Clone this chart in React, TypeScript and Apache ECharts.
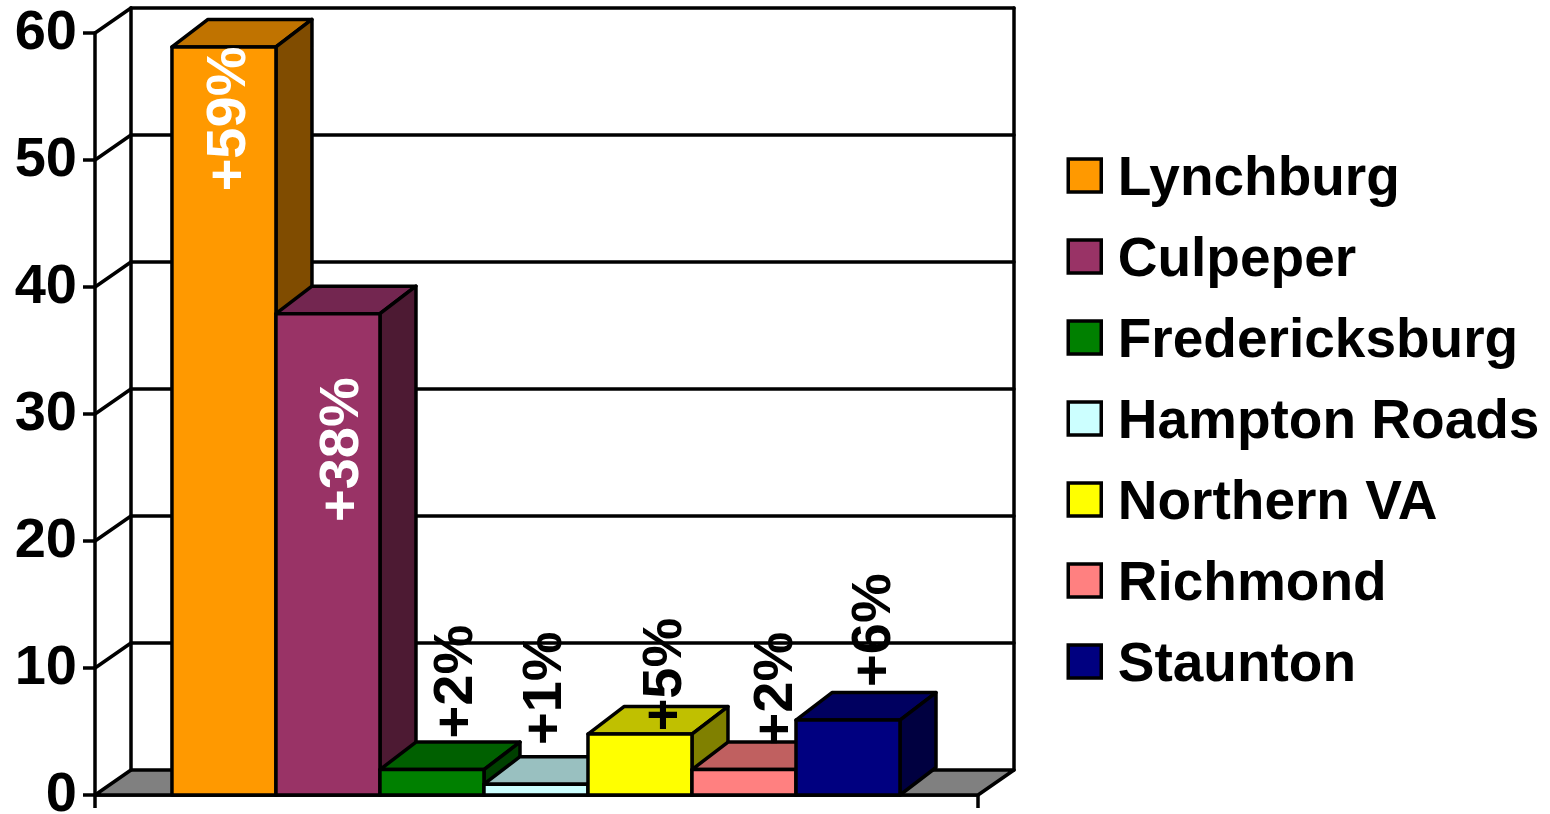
import React, { useEffect, useRef } from "react";
import * as echarts from "echarts";

const regions = ["Lynchburg", "Culpeper", "Fredericksburg", "Hampton Roads", "Northern VA", "Richmond", "Staunton"];
const values = [58.9, 37.9, 2, 0.85, 4.8, 2, 5.9];
const labels = ["+59%", "+38%", "+2%", "+1%", "+5%", "+2%", "+6%"];
const frontColors = ["#FF9900", "#993366", "#008000", "#CCFFFF", "#FFFF00", "#FF8080", "#000080"];
const topColors = ["#C07300", "#732650", "#006000", "#99C0C0", "#C0C000", "#C06060", "#000060"];
const sideColors = ["#804C00", "#4D1A33", "#004000", "#668080", "#808000", "#804040", "#000040"];
const axisTicks = [0, 10, 20, 30, 40, 50, 60];
const labelOffsets = [[2, 72], [11, 136], [21, -88], [6, -96], [22, -59.5], [29, -81], [23, -90]];

const FONT = '"Liberation Sans", Arial, sans-serif';
const WALL_DX = 36;
const WALL_DY = -25;
const BAR_DX = 36;
const BAR_DY = -27.5;
const X_MIN = -0.74;
const X_MAX = 7.75;
const LINE = 3.5;

const poly = (points: number[][], fill: string, lineWidth = LINE) => ({
  type: "polygon",
  shape: { points },
  style: { fill, stroke: "#000", lineWidth, lineJoin: "round" },
});
const seg = (a: number[], b: number[], lineWidth = LINE) => ({
  type: "line",
  shape: { x1: a[0], y1: a[1], x2: b[0], y2: b[1] },
  style: { stroke: "#000", lineWidth, lineCap: "round" },
});

function renderWall(_params: any, api: any) {
  const v = api.value(1);
  const fl = api.coord([X_MIN, v]);
  const fr = api.coord([X_MAX, v]);
  const bl = [fl[0] + WALL_DX, fl[1] + WALL_DY];
  const br = [fr[0] + WALL_DX, fr[1] + WALL_DY];
  const children: any[] = [];
  if (v === 0) {
    children.push(poly([fl, fr, br, bl], "#808080"));
    const tl = api.coord([X_MIN, axisTicks[axisTicks.length - 1]]);
    const tr = api.coord([X_MAX, axisTicks[axisTicks.length - 1]]);
    children.push(seg(bl, [tl[0] + WALL_DX, tl[1] + WALL_DY]));
    children.push(seg(br, [tr[0] + WALL_DX, tr[1] + WALL_DY]));
  } else {
    children.push(seg(fl, bl));
    children.push(seg(bl, br));
  }
  return { type: "group", children };
}

function makeBarRenderer(index: number) {
  return (_params: any, api: any) => {
    const i = api.value(0);
    const v = api.value(1);
    const a = api.coord([i, 0]);
    const b = api.coord([i + 1, v]);
    const [x0, y0] = a;
    const [x1, y1] = b;
    return {
      type: "group",
      children: [
        poly([[x0, y1], [x1, y1], [x1 + BAR_DX, y1 + BAR_DY], [x0 + BAR_DX, y1 + BAR_DY]], topColors[index]),
        poly([[x1, y0], [x1, y1], [x1 + BAR_DX, y1 + BAR_DY], [x1 + BAR_DX, y0 + BAR_DY]], sideColors[index]),
        poly([[x0, y0], [x1, y0], [x1, y1], [x0, y1]], frontColors[index]),
      ],
    };
  };
}

function renderLabel(params: any, api: any) {
  const i = api.value(0);
  const v = api.value(1);
  const c = api.coord([i + 0.5, v]);
  const off = labelOffsets[params.dataIndex];
  const inside = off[1] > 0;
  return {
    type: "text",
    x: c[0] + off[0],
    y: c[1] + off[1],
    rotation: Math.PI / 2,
    style: {
      text: labels[params.dataIndex],
      fill: inside ? "#FFFFFF" : "#000000",
      font: `bold 56px ${FONT}`,
      align: "center",
      verticalAlign: "middle",
    },
  };
}

export default function App() {
  const ref = useRef<HTMLDivElement>(null);
  useEffect(() => {
    document.body.style.margin = "0";
    const chart = echarts.init(ref.current!, undefined, { renderer: "svg" });
    chart.setOption({
      animation: false,
      backgroundColor: "#FFFFFF",
      grid: { left: 95, top: 33, width: 883, height: 762, containLabel: false, outerBoundsMode: "none" },
      xAxis: [
        {
          type: "category",
          data: [""],
          boundaryGap: true,
          axisLine: { show: true, onZero: false, lineStyle: { color: "#000", width: LINE } },
          axisTick: { show: true, alignWithLabel: false, length: 13, lineStyle: { color: "#000", width: LINE } },
          axisLabel: { show: false },
          splitLine: { show: false },
        },
        { type: "value", min: X_MIN, max: X_MAX, show: false, splitLine: { show: false } },
      ],
      yAxis: {
        type: "value",
        min: 0,
        max: 60,
        interval: 10,
        axisLine: { show: true, onZero: false, lineStyle: { color: "#000", width: LINE } },
        axisTick: { show: true, length: 12, lineStyle: { color: "#000", width: LINE } },
        axisLabel: {
          color: "#000",
          fontFamily: FONT,
          fontWeight: "bold",
          fontSize: 56,
          margin: 18,
          verticalAlign: "bottom",
          lineHeight: 8,
        },
        splitLine: { show: false },
      },
      legend: {
        orient: "vertical",
        left: 1066.5,
        top: 148,
        padding: 0,
        itemWidth: 33,
        itemHeight: 33,
        itemGap: 26,
        icon: "rect",
        data: regions,
        selectedMode: false,
        itemStyle: { borderColor: "#000", borderWidth: LINE },
        textStyle: { color: "#000", fontFamily: FONT, fontWeight: "bold", fontSize: 55, padding: [0, 0, 0, 11.5] },
      },
      series: [
        {
          type: "custom",
          name: "walls",
          xAxisIndex: 1,
          z: 1,
          renderItem: renderWall,
          data: axisTicks.map((t) => [0, t]),
          silent: true,
        },
        ...regions.map((name, i) => ({
          type: "custom",
          name,
          xAxisIndex: 1,
          z: 2,
          itemStyle: { color: frontColors[i] },
          renderItem: makeBarRenderer(i),
          data: [[i, values[i]]],
          silent: true,
        })),
        {
          type: "custom",
          name: "labels",
          xAxisIndex: 1,
          z: 3,
          renderItem: renderLabel,
          data: values.map((v, i) => [i, v]),
          silent: true,
        },
      ],
    });
    return () => chart.dispose();
  }, []);
  return <div ref={ref} style={{ position: "absolute", left: 0, top: 0, width: 1550, height: 814 }} />;
}
